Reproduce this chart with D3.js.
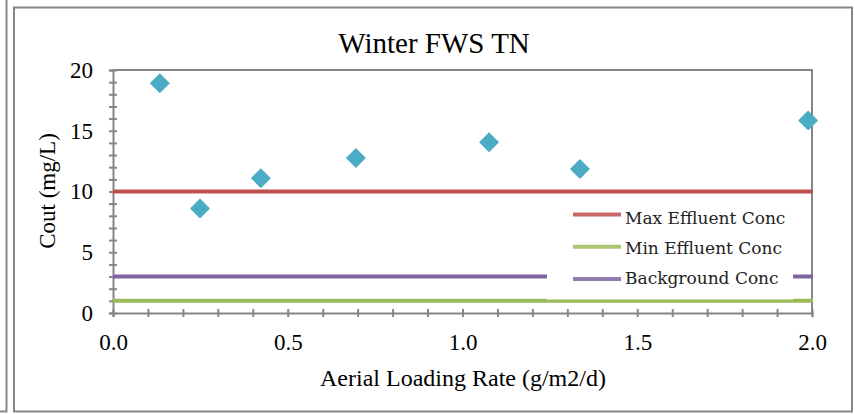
<!DOCTYPE html>
<html>
<head>
<meta charset="utf-8">
<script src="https://cdn.jsdelivr.net/npm/d3@7"></script>
<style>
  body { margin: 0; background: #fff; }
  svg { display: block; }
  .axis path, .axis line { stroke: #868686; stroke-width: 2; }
</style>
</head>
<body>
<div id="chart"></div>
<script>
// data
var loadingRate = [0.134, 0.249, 0.423, 0.695, 1.076, 1.336, 1.989];
var cout = [18.9, 8.6, 11.1, 12.75, 14.05, 11.85, 15.85];

var refNames = ["Max Effluent Conc", "Min Effluent Conc", "Background Conc"];
var refValues = [10, 1, 3];
var refColors = ["#C0504D", "#9BBB59", "#8064A2"];

var xTicks = [0, 0.5, 1.0, 1.5, 2.0];
var yTicks = [0, 5, 10, 15, 20];

var W = 855, H = 414;
var plot = { left: 113, right: 812, top: 70, bottom: 313 };
var serif = "Liberation Serif, Times New Roman, serif";

var svg = d3.select("#chart").append("svg")
  .attr("width", W)
  .attr("height", H);

// outer frames
svg.append("path")
  .attr("d", "M6.5,0 V411.5 H0")
  .attr("fill", "none")
  .attr("stroke", "#868686")
  .attr("stroke-width", 2);
svg.append("rect")
  .attr("x", 14)
  .attr("y", 7.5)
  .attr("width", 838)
  .attr("height", 404)
  .attr("fill", "#fff")
  .attr("stroke", "#868686")
  .attr("stroke-width", 2);

var xScale = d3.scaleLinear().domain([0, 2]).range([plot.left, plot.right]);
var yScale = d3.scaleLinear().domain([0, 20]).range([plot.bottom, plot.top]);

// plot area border (top + right)
svg.append("path")
  .attr("d", "M" + plot.left + "," + plot.top + " H" + plot.right + " V" + plot.bottom)
  .attr("fill", "none")
  .attr("stroke", "#868686")
  .attr("stroke-width", 2);

// minor ticks, crossing the axis lines
var xMinor = d3.range(0, 21).map((i) => i / 10);
var yMinor = d3.range(0, 21);

var gxMinor = svg.append("g")
  .attr("class", "axis")
  .attr("transform", "translate(0," + plot.bottom + ")")
  .call(d3.axisBottom(xScale).tickValues(xMinor).tickSize(4).tickFormat(""));
gxMinor.selectAll(".tick line").attr("y1", -4);

var gyMinor = svg.append("g")
  .attr("class", "axis")
  .attr("transform", "translate(" + plot.left + ",0)")
  .call(d3.axisLeft(yScale).tickValues(yMinor).tickSize(4).tickFormat(""));
gyMinor.selectAll(".tick line").attr("x1", 4);

// labelled axes
var gx = svg.append("g")
  .attr("class", "axis")
  .attr("transform", "translate(0," + plot.bottom + ")")
  .call(d3.axisBottom(xScale).tickValues(xTicks).tickSize(0).tickPadding(21)
    .tickFormat(d3.format(".1f")));
gx.select(".domain").remove();

var gy = svg.append("g")
  .attr("class", "axis")
  .attr("transform", "translate(" + plot.left + ",0)")
  .call(d3.axisLeft(yScale).tickValues(yTicks).tickSize(0).tickPadding(20));
gy.select(".domain").remove();

svg.selectAll(".axis text")
  .attr("font-family", serif)
  .attr("font-size", 23)
  .attr("fill", "#000");

// reference lines
refValues.forEach((v, i) => {
  svg.append("line")
    .attr("x1", plot.left)
    .attr("x2", plot.right + 1)
    .attr("y1", yScale(v))
    .attr("y2", yScale(v))
    .attr("stroke", refColors[i])
    .attr("stroke-width", 4);
});

// data points
var diamond = d3.symbol().type(d3.symbolSquare).size(200);
svg.selectAll(".pt")
  .data(loadingRate)
  .enter()
  .append("path")
  .attr("class", "pt")
  .attr("d", diamond)
  .attr("fill", "#4BACC6")
  .attr("transform", (d, i) => "translate(" + xScale(d) + "," + yScale(cout[i]) + ") rotate(45)");

// legend
var legend = svg.append("g");
legend.append("rect")
  .attr("x", 547)
  .attr("y", 201)
  .attr("width", 246)
  .attr("height", 98.5)
  .attr("fill", "#fff");

refNames.forEach((name, i) => {
  var ly = 214.5 + i * 32.2;
  legend.append("line")
    .attr("x1", 573)
    .attr("x2", 621)
    .attr("y1", ly)
    .attr("y2", ly)
    .attr("stroke", refColors[i])
    .attr("stroke-width", 4)
    .attr("opacity", 0.85);
  legend.append("text")
    .attr("x", 625)
    .attr("y", 224 + i * 30)
    .attr("font-family", "DejaVu Serif, serif")
    .attr("font-size", 17)
    .attr("fill", "#222")
    .text(name);
});

// titles
svg.append("text")
  .attr("x", 434)
  .attr("y", 53)
  .attr("text-anchor", "middle")
  .attr("font-family", serif)
  .attr("font-size", 29)
  .text("Winter FWS TN");

svg.append("text")
  .attr("x", 463)
  .attr("y", 386)
  .attr("text-anchor", "middle")
  .attr("font-family", serif)
  .attr("font-size", 24)
  .text("Aerial Loading Rate (g/m2/d)");

svg.append("text")
  .attr("transform", "translate(55,191) rotate(-90)")
  .attr("text-anchor", "middle")
  .attr("font-family", serif)
  .attr("font-size", 23)
  .text("Cout (mg/L)");
</script>
</body>
</html>
